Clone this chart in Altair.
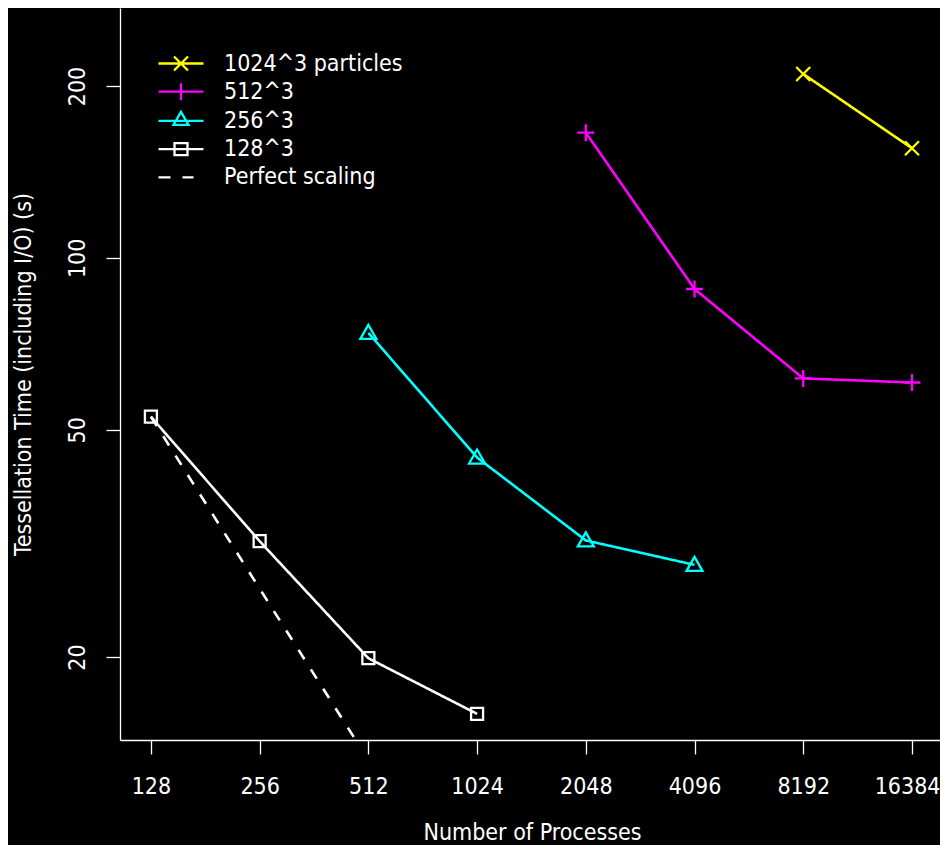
import altair as alt
import pandas as pd

# ---- data ----
procs_ticks = [128, 256, 512, 1024, 2048, 4096, 8192, 16384]
time_ticks = [20, 50, 100, 200]

names = ["1024^3 particles", "512^3", "256^3", "128^3", "Perfect scaling"]
colors = ["#ffff00", "#ff00ff", "#00ffff", "#ffffff", "#ffffff"]

s1024_x = [8192, 16384]
s1024_y = [209.9, 155.6]
s512_x = [2048, 4096, 8192, 16384]
s512_y = [165.7, 88.2, 61.5, 60.5]
s256_x = [512, 1024, 2048, 4096]
s256_y = [73.9, 44.7, 32.0, 29.0]
s128_x = [128, 256, 512, 1024]
s128_y = [52.7, 31.9, 19.9, 15.9]
perfect_x = [128, 256, 512]
perfect_y = [52.7, 26.35, 13.2]

rows = []
for name, xs, ys in zip(names,
                        [s1024_x, s512_x, s256_x, s128_x, perfect_x],
                        [s1024_y, s512_y, s256_y, s128_y, perfect_y]):
    for a, b in zip(xs, ys):
        rows.append({"series": name, "procs": a, "time": b})
df = pd.DataFrame(rows)

# marker paths for data points
data_shapes = {
    "1024^3 particles": ("M-1,-1L1,1M-1,1L1,-1", 196),
    "512^3": ("M-1,0H1M0,-1V1", 289),
    "256^3": ("M0,-1L1,0.75L-1,0.75Z", 256),
    "128^3": ("M-1,-1H1V1H-1Z", 144),
}
# legend symbols: line + marker
legend_shapes = [
    "M-1.607,0H1.607M-0.5,-0.5L0.5,0.5M-0.5,0.5L0.5,-0.5",
    "M-1.607,0H1.607M0,-0.607V0.607",
    "M-1.607,0H1.607M0,-0.643L0.536,0.286L-0.536,0.286Z",
    "M-1.607,0H1.607M-0.464,-0.43H0.464V0.43H-0.464Z",
    "M-1.607,0H-0.75M0.107,0H0.893",
]

FONT = "DejaVu Sans Condensed, Liberation Sans Narrow, DejaVu Sans"

x_enc = alt.X("procs:Q",
              scale=alt.Scale(type="log", base=2, domain=[105.1, 19590], nice=False),
              axis=alt.Axis(values=procs_ticks, format="d", title="Number of Processes",
                            tickSize=14, labelPadding=21, labelFlush=29,
                            labelFlushOffset=28,
                            labelOverlap=False, titleX=412, titleY=99,
                            titleBaseline="alphabetic"))
y_enc = alt.Y("time:Q",
              scale=alt.Scale(type="log", domain=[14.31, 273.9], nice=False),
              axis=alt.Axis(values=time_ticks, format="d",
                            title="Tessellation Time (including I/O) (s)",
                            tickSize=14, labelPadding=17, labelAngle=270,
                            labelAlign="center", labelBaseline="bottom",
                            labelFlush=False, labelOverlap=False,
                            titleX=-90, titleY=366, titleAngle=270,
                            titleAlign="center", titleBaseline="alphabetic"))

color_scale = alt.Scale(domain=names, range=colors)

legend_props = dict(title=None, orient="none", legendX=45.5, legendY=40,
                    direction="vertical", padding=0,
                    symbolSize=784, symbolStrokeWidth=2.3, symbolOpacity=1,
                    symbolFillColor="transparent",
                    labelOffset=27.5, rowPadding=0.2,
                    labelColor="white", labelFontSize=23,
                    labelFont=FONT, labelLimit=400)

base = alt.Chart(df)

legend_layer = base.transform_filter(alt.datum.time < 0).mark_point(
    filled=False, strokeWidth=2.3, size=784, opacity=1
).encode(
    x=x_enc, y=y_enc,
    color=alt.Color("series:N", scale=color_scale, legend=alt.Legend(**legend_props)),
    shape=alt.Shape("series:N", scale=alt.Scale(domain=names, range=legend_shapes),
                    legend=alt.Legend(**legend_props)),
)

lines = base.mark_line(clip=True, strokeWidth=2.6).encode(
    x=x_enc, y=y_enc,
    color=alt.Color("series:N", scale=color_scale),
    strokeDash=alt.condition(alt.datum.series == "Perfect scaling",
                             alt.value([11, 12]), alt.value([1, 0])),
)

point_layers = []
for name, col in zip(names[:4], colors[:4]):
    path, size = data_shapes[name]
    point_layers.append(
        base.transform_filter(alt.datum.series == name)
        .mark_point(shape=path, size=size, filled=False, strokeWidth=2.3,
                    color=col, opacity=1, clip=True)
        .encode(x=x_enc, y=y_enc)
    )

chart = alt.layer(legend_layer, lines, *point_layers).properties(
    width=820, height=732,
    background="black",
    padding={"left": 112, "top": 0, "right": 0, "bottom": 105},
    autosize=alt.AutoSizeParams(type="none"),
).configure_view(stroke=None).configure_axis(
    grid=False, domainColor="white", tickColor="white", labelColor="white",
    titleColor="white", labelFont=FONT, titleFont=FONT, labelFontSize=23,
    titleFontSize=23, titleFontWeight="normal", domainWidth=1.3, tickWidth=1.3,
)

chart.save("out.html", embed_options={"renderer": "svg", "actions": False})
